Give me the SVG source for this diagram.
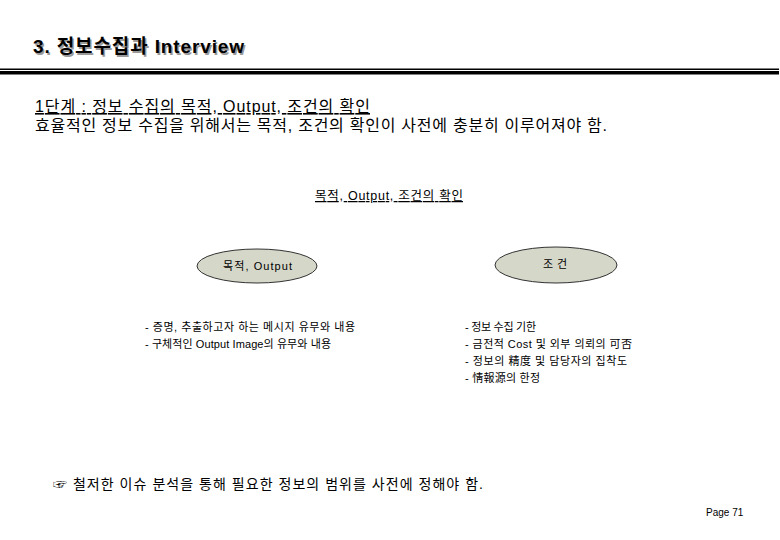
<svg xmlns="http://www.w3.org/2000/svg" width="780" height="540" viewBox="0 0 780 540">
<style>
text{font-family:"Liberation Sans","Noto Sans CJK KR",sans-serif;fill:#000}
.title{font-size:19px;font-weight:bold}
.shadow{fill:#9a9a9a}
.head{font-size:16px}
.sub{font-size:12.5px}
.small{font-size:11px}
.node{fill:#d5d7c9;stroke:#333;stroke-width:1}
</style>
<rect width="780" height="540" fill="#fff"/>
<g id="header">
<text class="title shadow" x="34.5" y="54.5" textLength="211" lengthAdjust="spacing">3. 정보수집과 Interview</text>
<text class="title" x="33" y="53" textLength="211" lengthAdjust="spacing">3. 정보수집과 Interview</text>
<rect x="0" y="68.5" width="779" height="1.5" fill="#000"/>
<rect x="0" y="71" width="779" height="3.5" fill="#000"/>
</g>
<g id="intro">
<text class="head" x="35" y="112" textLength="335" lengthAdjust="spacing" text-decoration="underline">1단계 : 정보 수집의 목적, Output, 조건의 확인</text>
<text class="head" x="35" y="131" textLength="572" lengthAdjust="spacing">효율적인 정보 수집을 위해서는 목적, 조건의 확인이 사전에 충분히 이루어져야 함.</text>
</g>
<g id="section-title">
<text class="sub" x="315" y="200" textLength="148" lengthAdjust="spacing" text-decoration="underline">목적, Output, 조건의 확인</text>
</g>
<g id="connectors"></g>
<g id="node-purpose">
<ellipse class="node" cx="257" cy="266" rx="60" ry="17"/>
<text class="small" x="223" y="270" textLength="69" lengthAdjust="spacing">목적, Output</text>
<text class="small" x="145" y="331" textLength="210" lengthAdjust="spacing">- 증명, 추출하고자 하는 메시지 유무와 내용</text>
<text class="small" x="145" y="348" textLength="186" lengthAdjust="spacing">- 구체적인 Output Image의 유무와 내용</text>
</g>
<g id="node-condition">
<ellipse class="node" cx="556" cy="265" rx="61" ry="18"/>
<text class="small" x="543" y="268" textLength="24" lengthAdjust="spacing">조 건</text>
<text class="small" x="465" y="331" textLength="71" lengthAdjust="spacing">- 정보 수집 기한</text>
<text class="small" x="465" y="348" textLength="167" lengthAdjust="spacing">- 금전적 Cost 및 외부 의뢰의 可否</text>
<text class="small" x="465" y="365" textLength="162" lengthAdjust="spacing">- 정보의 精度 및 담당자의 집착도</text>
<text class="small" x="465" y="382" textLength="75" lengthAdjust="spacing">- 情報源의 한정</text>
</g>
<g id="conclusion">
<text x="53" y="489" style="font-size:14px" textLength="430" lengthAdjust="spacing">☞ 철저한 이슈 분석을 통해 필요한 정보의 범위를 사전에 정해야 함.</text>
</g>
<g id="footer">
<text x="706" y="516" style="font-size:10px">Page 71</text>
</g>
</svg>
